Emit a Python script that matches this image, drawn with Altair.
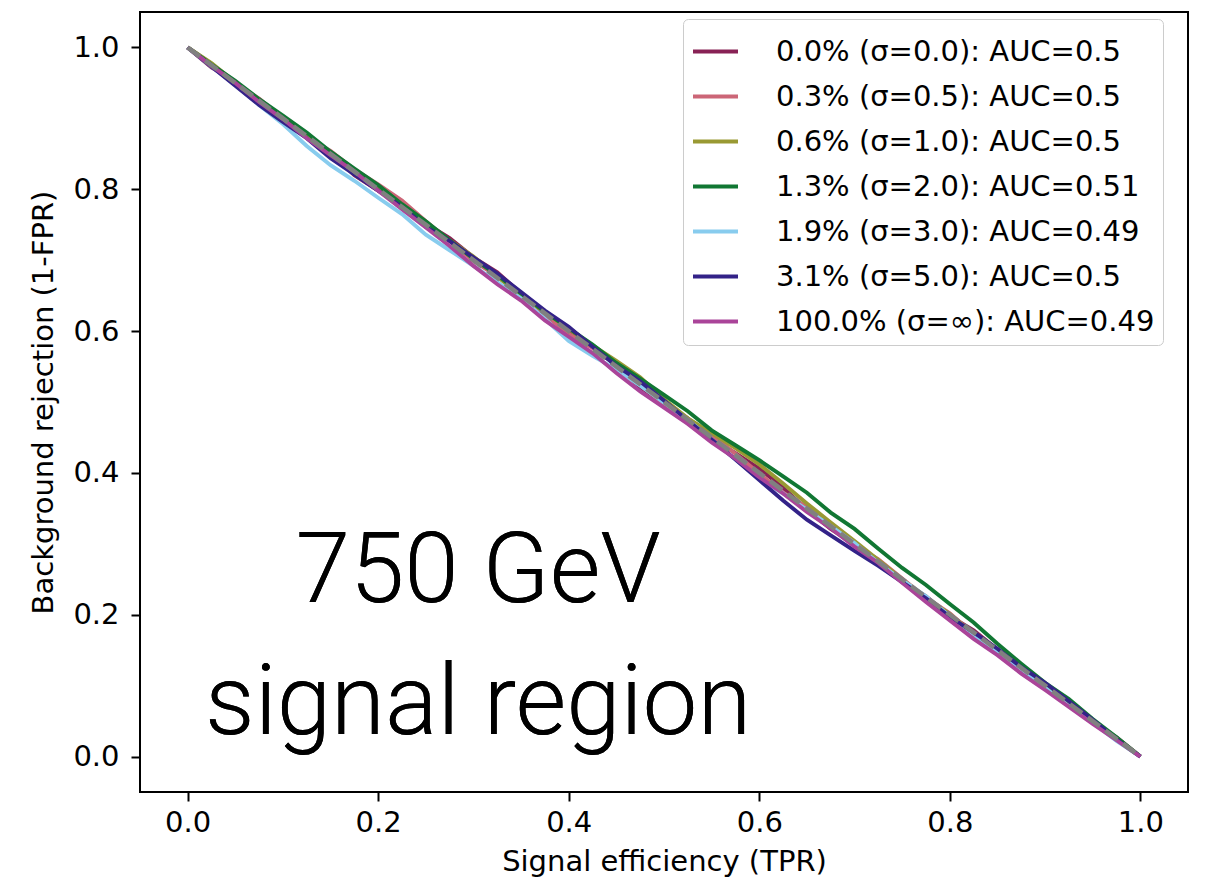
import altair as alt
import pandas as pd

# Signal efficiency (TPR) grid
tpr = [0.0, 0.025, 0.05, 0.075, 0.1, 0.125, 0.15, 0.175, 0.2, 0.225, 0.25, 0.275, 0.3, 0.325,
       0.35, 0.375, 0.4, 0.425, 0.45, 0.475, 0.5, 0.525, 0.55, 0.575, 0.6, 0.625, 0.65, 0.675,
       0.7, 0.725, 0.75, 0.775, 0.8, 0.825, 0.85, 0.875, 0.9, 0.925, 0.95, 0.975, 1.0]

labels = [
    "0.0% (σ=0.0): AUC=0.5",
    "0.3% (σ=0.5): AUC=0.5",
    "0.6% (σ=1.0): AUC=0.5",
    "1.3% (σ=2.0): AUC=0.51",
    "1.9% (σ=3.0): AUC=0.49",
    "3.1% (σ=5.0): AUC=0.5",
    "100.0% (σ=∞): AUC=0.49",
]
colors = ["#882255", "#CC6677", "#999933", "#117733", "#88CCEE", "#332288", "#AA4499"]

# Background rejection (1-FPR) for each series
rej_00 = [1.000, .972, .952, .923, .896, .878, .851, .820, .798, .779, .752, .731, .704, .683,
          .653, .626, .598, .578, .551, .521, .498, .477, .449, .428, .406, .379, .348, .321,
          .299, .277, .247, .226, .198, .178, .151, .122, .102, .079, .049, .027, 0.0]
rej_03 = [1.000, .977, .949, .928, .901, .873, .854, .828, .807, .784, .755, .727, .699, .677,
          .654, .623, .596, .576, .553, .524, .497, .476, .454, .427, .399, .372, .352, .325,
          .298, .278, .251, .224, .202, .173, .151, .128, .099, .077, .051, .023, 0.0]
rej_06 = [1.000, .978, .951, .923, .902, .875, .847, .827, .804, .776, .748, .728, .705, .677,
          .649, .627, .603, .580, .558, .535, .504, .477, .456, .435, .412, .385, .357, .330,
          .304, .277, .250, .223, .201, .172, .150, .127, .099, .076, .048, .026, 0.0]
rej_13 = [1.000, .976, .953, .927, .904, .880, .853, .829, .806, .779, .755, .728, .702, .679,
          .653, .627, .604, .581, .555, .533, .510, .487, .460, .439, .418, .395, .372, .344,
          .321, .293, .266, .242, .215, .189, .159, .131, .104, .081, .053, .027, 0.0]
rej_19 = [1.000, .973, .947, .919, .892, .861, .834, .812, .788, .765, .736, .714, .692, .669,
          .646, .617, .586, .565, .546, .523, .499, .475, .447, .419, .392, .371, .348, .325,
          .301, .273, .249, .226, .198, .172, .146, .123, .097, .071, .048, .022, 0.0]
rej_31 = [1.000, .973, .946, .919, .895, .872, .844, .821, .798, .775, .747, .727, .704, .681,
          .655, .629, .606, .578, .551, .529, .502, .474, .447, .419, .390, .361, .334, .312,
          .290, .269, .246, .223, .197, .175, .152, .126, .104, .078, .052, .024, 0.0]
rej_100 = [1.000, .974, .950, .923, .899, .872, .848, .825, .798, .772, .746, .720, .692, .666,
           .643, .615, .592, .569, .541, .515, .492, .469, .443, .420, .394, .371, .345, .322,
           .296, .273, .245, .218, .192, .166, .143, .117, .094, .070, .046, .023, 0.0]

series_values = [rej_00, rej_03, rej_06, rej_13, rej_19, rej_31, rej_100]

diag_x = [0.0, 1.0]
diag_y = [1.0, 0.0]

ann_lines = ["750 GeV", "signal region"]

rows = []
for lab, vals in zip(labels, series_values):
    for i, (xv, yv) in enumerate(zip(tpr, vals)):
        rows.append({"tpr": xv, "rej": yv, "series": lab, "idx": i})
df = pd.DataFrame(rows)
diag_df = pd.DataFrame({"tpr": diag_x, "rej": diag_y})

FONT = "DejaVu Sans"
FS = 29
xscale = alt.Scale(domain=[-0.05, 1.05], nice=False, zero=False)
yscale = alt.Scale(domain=[-0.05, 1.05], nice=False, zero=False)
ticks = [0.0, 0.2, 0.4, 0.6, 0.8, 1.0]

xaxis = alt.Axis(title="Signal efficiency (TPR)", values=ticks, format=".1f", grid=False,
                 domain=False, tickColor="black", tickWidth=2, tickSize=9,
                 labelFont=FONT, labelFontSize=FS, labelColor="black", labelPadding=7,
                 titleFont=FONT, titleFontSize=FS, titleFontWeight="normal",
                 titleColor="black", titlePadding=10)
yaxis = alt.Axis(title="Background rejection (1-FPR)", values=ticks, format=".1f", grid=False,
                 domain=False, tickColor="black", tickWidth=2, tickSize=9,
                 labelFont=FONT, labelFontSize=FS, labelColor="black", labelPadding=12,
                 titleFont=FONT, titleFontSize=FS, titleFontWeight="normal",
                 titleColor="black", titlePadding=14)

color = alt.Color("series:N",
                  scale=alt.Scale(domain=labels, range=colors),
                  sort=labels,
                  legend=alt.Legend(title=None, orient="none", legendX=543, legendY=7,
                                    padding=8, strokeColor="#cccccc", cornerRadius=5,
                                    fillColor="white", labelFont=FONT, labelFontSize=FS,
                                    labelColor="black", labelLimit=0, symbolType="stroke",
                                    symbolSize=2025, symbolStrokeWidth=4, labelOffset=36,
                                    rowPadding=5))

base = alt.Chart(df).mark_line(strokeWidth=3.9, clip=True).encode(
    x=alt.X("tpr:Q", scale=xscale, axis=xaxis),
    y=alt.Y("rej:Q", scale=yscale, axis=yaxis),
    color=color,
    order="idx:Q",
)

layers = [base.transform_filter(alt.datum.series == lab) for lab in labels]

diag = alt.Chart(diag_df).mark_line(color="#808080", strokeWidth=4.5, strokeDash=[15, 7]).encode(
    x=alt.X("tpr:Q", scale=xscale),
    y=alt.Y("rej:Q", scale=yscale),
)

ann_font = "Roboto, Lato, Liberation Sans"
ann1 = alt.Chart(diag_df).mark_text(text=ann_lines[0], font=ann_font, fontWeight=300,
                                    fontSize=98, color="black", align="center",
                                    baseline="alphabetic").encode(
    x=alt.datum(0.305, scale=xscale), y=alt.datum(0.218, scale=yscale))
ann2 = alt.Chart(diag_df).mark_text(text=ann_lines[1], font=ann_font, fontWeight=300,
                                    fontSize=98, color="black", align="center",
                                    baseline="alphabetic").encode(
    x=alt.datum(0.305, scale=xscale), y=alt.datum(0.032, scale=yscale))

chart = alt.layer(*layers, diag, ann1, ann2).properties(
    width=1048, height=780,
    autosize=alt.AutoSizeParams(type="none"),
    padding={"left": 140, "top": 12, "right": 18, "bottom": 89},
    background="white",
).configure_view(stroke="black", strokeWidth=2)

chart.save("out.html", embed_options={"renderer": "svg", "actions": False})
